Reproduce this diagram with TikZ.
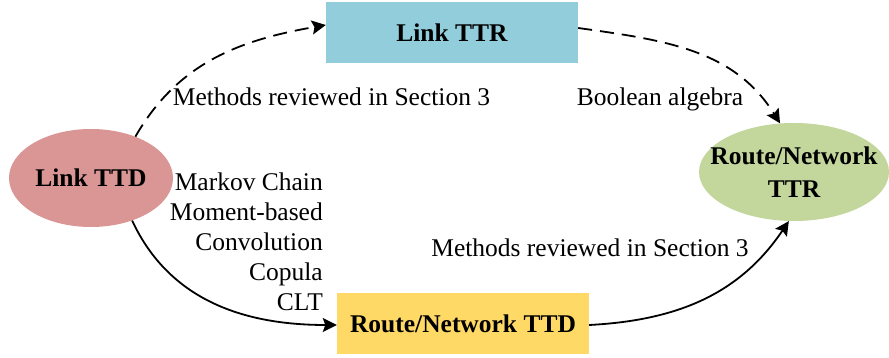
\documentclass[tikz,border=0pt]{standalone}
\usepackage{fontspec}
\setmainfont{Liberation Serif}
\usetikzlibrary{shapes.geometric,arrows.meta}
\definecolor{cblue}{HTML}{92CDDC}
\definecolor{cred}{HTML}{D99694}
\definecolor{cgreen}{HTML}{C3D69B}
\definecolor{cyellow}{HTML}{FFD966}
\tikzset{
  boxnode/.style={rectangle, inner sep=0pt, minimum width=252pt, minimum height=61pt, font=\fontsize{25.5pt}{33pt}\selectfont\bfseries},
  ellnode/.style={ellipse, inner sep=0pt, font=\fontsize{25.5pt}{33pt}\selectfont\bfseries, align=center},
  lbl/.style={inner sep=0pt, font=\fontsize{25.5pt}{30pt}\selectfont, anchor=base},
  conn/.style={line width=1.8pt, -{Stealth[length=14pt,width=14pt,inset=2.5pt]}},
  dashconn/.style={conn, dash pattern=on 14pt off 8pt},
}
\begin{document}
\begin{tikzpicture}[x=1pt,y=1pt]
\useasboundingbox (0,0) rectangle (889,358);
\node[boxnode, fill=cblue] (ttr) at (452,325.5) {Link TTR};
\node[boxnode, fill=cyellow] (rttd) at (463,34.5) {Route/Network TTD};
\node[ellnode, fill=cred, minimum width=164pt, minimum height=98pt] (ttd) at (91,180) {Link TTD};
\node[ellnode, fill=cgreen, inner xsep=-17pt, minimum width=190pt, minimum height=98pt] (rttr) at (794,186) {Route/Network\\TTR};

\draw[dashconn] (ttd.43) to[out=60, in=190] ([yshift=7.5pt]ttr.west);
\draw[dashconn] ([yshift=4.5pt]ttr.east) to[out=-8, in=122] (rttr.106);
\draw[conn] (ttd.-46) to[out=-65, in=180] ([yshift=-1.5pt]rttd.west);
\draw[conn] ([yshift=-1.5pt]rttd.east) to[out=3, in=-124] (rttr.-96);

\node[lbl] (m1) at (331.5,252) {Methods reviewed in Section 3};
\node[lbl] (ba) at (660,252) {Boolean algebra};
\node[lbl] (m2) at (590,101) {Methods reviewed in Section 3};
\node[lbl, anchor=base east] (l1) at (323,167) {Markov Chain};
\node[lbl, anchor=base east] (l2) at (323,137) {Moment-based};
\node[lbl, anchor=base east] (l3) at (323,107) {Convolution};
\node[lbl, anchor=base east] (l4) at (323,77) {Copula};
\node[lbl, anchor=base east] (l5) at (323,47) {CLT};
\end{tikzpicture}
\end{document}
